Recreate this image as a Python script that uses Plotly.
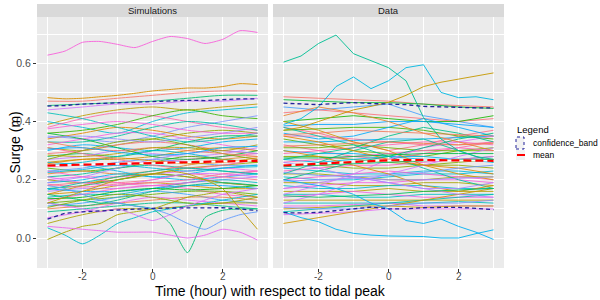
import math
import plotly.graph_objects as go

# ---------------- data ----------------
X7 = [-3, -2, -1, 0, 1, 2, 3]
X13 = [-3, -2.5, -2, -1.5, -1, -0.5, 0, 0.5, 1, 1.5, 2, 2.5, 3]
panels = ["Simulations", "Data"]

sim_bulk = [
    [0.47, 0.47, 0.48, 0.49, 0.50, 0.505, 0.505],
    [0.455, 0.46, 0.465, 0.47, 0.48, 0.49, 0.49],
    [0.44, 0.45, 0.46, 0.46, 0.47, 0.47, 0.48],
    [0.39, 0.42, 0.44, 0.45, 0.44, 0.45, 0.46],
    [0.40, 0.38, 0.36, 0.40, 0.43, 0.44, 0.45],
    [0.38, 0.41, 0.43, 0.42, 0.40, 0.38, 0.37],
    [0.36, 0.37, 0.39, 0.42, 0.44, 0.42, 0.41],
    [0.35, 0.34, 0.33, 0.35, 0.38, 0.40, 0.42],
    [0.34, 0.36, 0.38, 0.37, 0.35, 0.34, 0.35],
    [0.33, 0.33, 0.35, 0.38, 0.40, 0.39, 0.37],
    [0.32, 0.34, 0.36, 0.36, 0.34, 0.32, 0.30],
    [0.31, 0.30, 0.32, 0.34, 0.36, 0.37, 0.36],
    [0.30, 0.32, 0.31, 0.30, 0.31, 0.33, 0.34],
    [0.29, 0.30, 0.32, 0.33, 0.32, 0.30, 0.29],
    [0.28, 0.29, 0.28, 0.30, 0.33, 0.35, 0.35],
    [0.27, 0.28, 0.30, 0.29, 0.28, 0.29, 0.31],
    [0.26, 0.27, 0.27, 0.28, 0.30, 0.31, 0.30],
    [0.25, 0.26, 0.28, 0.30, 0.29, 0.27, 0.26],
    [0.245, 0.25, 0.25, 0.26, 0.27, 0.28, 0.29],
    [0.24, 0.23, 0.24, 0.26, 0.28, 0.27, 0.26],
    [0.23, 0.24, 0.26, 0.27, 0.26, 0.25, 0.25],
    [0.22, 0.23, 0.22, 0.23, 0.25, 0.27, 0.28],
    [0.21, 0.22, 0.24, 0.25, 0.24, 0.23, 0.22],
    [0.20, 0.21, 0.21, 0.22, 0.23, 0.24, 0.23],
    [0.20, 0.19, 0.20, 0.22, 0.24, 0.25, 0.26],
    [0.19, 0.20, 0.22, 0.21, 0.20, 0.21, 0.22],
    [0.18, 0.19, 0.19, 0.20, 0.22, 0.21, 0.20],
    [0.17, 0.18, 0.20, 0.22, 0.21, 0.19, 0.18],
    [0.16, 0.17, 0.17, 0.18, 0.19, 0.20, 0.21],
    [0.15, 0.16, 0.18, 0.19, 0.18, 0.17, 0.17],
    [0.14, 0.15, 0.15, 0.17, 0.19, 0.20, 0.19],
    [0.13, 0.15, 0.17, 0.18, 0.17, 0.15, 0.14],
    [0.12, 0.13, 0.14, 0.15, 0.16, 0.16, 0.15],
    [0.11, 0.12, 0.14, 0.16, 0.15, 0.13, 0.12],
    [0.10, 0.11, 0.12, 0.13, 0.14, 0.14, 0.13],
    [0.09, 0.10, 0.11, 0.12, 0.12, 0.11, 0.10],
    [0.07, 0.09, 0.12, 0.14, 0.13, 0.12, 0.11],
    [0.05, 0.08, 0.10, 0.10, 0.11, 0.12, 0.12],
    [0.26, 0.25, 0.23, 0.21, 0.22, 0.24, 0.25],
    [0.31, 0.29, 0.27, 0.25, 0.24, 0.25, 0.27],
    [0.36, 0.34, 0.31, 0.28, 0.27, 0.28, 0.30],
    [0.19, 0.21, 0.24, 0.27, 0.29, 0.30, 0.29],
    [0.15, 0.18, 0.21, 0.22, 0.21, 0.19, 0.18],
    [0.43, 0.41, 0.38, 0.35, 0.33, 0.34, 0.36],
    [0.23, 0.21, 0.19, 0.18, 0.19, 0.21, 0.23],
    [0.27, 0.30, 0.33, 0.34, 0.32, 0.29, 0.27],
    [0.17, 0.16, 0.16, 0.17, 0.18, 0.18, 0.17],
    [0.33, 0.31, 0.30, 0.31, 0.30, 0.29, 0.28],
    [0.12, 0.11, 0.13, 0.16, 0.18, 0.19, 0.18],
    [0.21, 0.19, 0.18, 0.20, 0.22, 0.22, 0.21],
    [0.285, 0.28, 0.29, 0.31, 0.31, 0.30, 0.32],
    [0.225, 0.235, 0.25, 0.24, 0.23, 0.24, 0.245],
    [0.185, 0.175, 0.185, 0.19, 0.20, 0.22, 0.23],
    [0.135, 0.14, 0.16, 0.17, 0.165, 0.17, 0.18],
    [0.345, 0.35, 0.34, 0.33, 0.345, 0.36, 0.38],
    [0.255, 0.27, 0.275, 0.265, 0.255, 0.26, 0.275],
    [0.165, 0.19, 0.21, 0.23, 0.24, 0.23, 0.22],
    [0.375, 0.39, 0.40, 0.39, 0.37, 0.36, 0.36],
    [0.105, 0.13, 0.15, 0.14, 0.12, 0.12, 0.14],
    [0.305, 0.31, 0.295, 0.285, 0.29, 0.31, 0.315],
]

# distinctive simulation series (on X13)
sim_pink_outlier = [0.628, 0.642, 0.672, 0.675, 0.665, 0.654, 0.675, 0.692, 0.685, 0.668, 0.682, 0.712, 0.706]
sim_orange_top = [0.482, 0.478, 0.48, 0.485, 0.49, 0.497, 0.505, 0.51, 0.515, 0.515, 0.52, 0.53, 0.527]
sim_green_dip = [0.15, 0.14, 0.13, 0.12, 0.12, 0.11, 0.10, 0.05, -0.05, 0.07, 0.095, 0.10, 0.10]
sim_cyan_low = [0.035, 0.01, -0.02, 0.01, 0.05, 0.07, 0.09, 0.10, 0.11, 0.12, 0.13, 0.14, 0.15]
sim_olive_low = [-0.005, 0.02, 0.04, 0.05, 0.08, 0.09, 0.10, 0.12, 0.14, 0.15, 0.16, 0.15, 0.14]
sim_violet_low = [0.04, 0.035, 0.03, 0.025, 0.02, 0.02, 0.02, 0.01, 0.0, 0.01, 0.03, 0.02, -0.007]
sim_violet_mid = [0.12, 0.11, 0.10, 0.09, 0.10, 0.08, 0.06, 0.08, 0.11, 0.13, 0.15, 0.16, 0.17]
sim_blue_dip = [0.18, 0.17, 0.15, 0.13, 0.12, 0.11, 0.10, 0.08, 0.05, 0.03, 0.06, 0.08, 0.09]
sim_olive_drop = [0.12, 0.14, 0.16, 0.18, 0.20, 0.21, 0.22, 0.23, 0.22, 0.20, 0.17, 0.10, 0.03]

sim_mean = [0.249, 0.252, 0.256, 0.259, 0.261, 0.263, 0.265]
sim_upper = [0.453, 0.455, 0.46, 0.462, 0.465, 0.468, 0.47, 0.472, 0.473, 0.472, 0.475, 0.478, 0.478]
sim_lower = [0.065, 0.085, 0.09, 0.093, 0.096, 0.10, 0.102, 0.103, 0.103, 0.105, 0.104, 0.10, 0.094]

data_bulk = [
    [0.485, 0.48, 0.475, 0.47, 0.46, 0.455, 0.45],
    [0.475, 0.47, 0.465, 0.465, 0.46, 0.45, 0.445],
    [0.45, 0.44, 0.45, 0.46, 0.42, 0.40, 0.38],
    [0.43, 0.44, 0.43, 0.42, 0.41, 0.40, 0.41],
    [0.40, 0.41, 0.42, 0.41, 0.40, 0.40, 0.42],
    [0.385, 0.39, 0.39, 0.40, 0.40, 0.39, 0.38],
    [0.38, 0.36, 0.33, 0.30, 0.32, 0.35, 0.37],
    [0.37, 0.375, 0.38, 0.38, 0.37, 0.35, 0.34],
    [0.36, 0.34, 0.35, 0.38, 0.41, 0.38, 0.35],
    [0.35, 0.35, 0.34, 0.33, 0.32, 0.32, 0.33],
    [0.34, 0.32, 0.30, 0.29, 0.28, 0.30, 0.31],
    [0.33, 0.33, 0.335, 0.34, 0.34, 0.345, 0.35],
    [0.32, 0.30, 0.28, 0.27, 0.29, 0.31, 0.33],
    [0.31, 0.31, 0.32, 0.31, 0.30, 0.30, 0.30],
    [0.30, 0.29, 0.29, 0.28, 0.27, 0.27, 0.28],
    [0.29, 0.30, 0.31, 0.32, 0.33, 0.33, 0.32],
    [0.28, 0.28, 0.27, 0.26, 0.25, 0.26, 0.27],
    [0.27, 0.26, 0.27, 0.28, 0.28, 0.27, 0.26],
    [0.26, 0.27, 0.28, 0.29, 0.30, 0.31, 0.30],
    [0.25, 0.25, 0.24, 0.24, 0.25, 0.25, 0.24],
    [0.24, 0.23, 0.22, 0.22, 0.23, 0.23, 0.22],
    [0.23, 0.24, 0.25, 0.25, 0.26, 0.27, 0.28],
    [0.22, 0.22, 0.21, 0.20, 0.20, 0.21, 0.21],
    [0.21, 0.20, 0.20, 0.21, 0.22, 0.22, 0.23],
    [0.20, 0.21, 0.22, 0.23, 0.22, 0.21, 0.20],
    [0.19, 0.19, 0.18, 0.18, 0.19, 0.19, 0.18],
    [0.18, 0.17, 0.17, 0.18, 0.18, 0.17, 0.17],
    [0.17, 0.18, 0.19, 0.19, 0.20, 0.20, 0.19],
    [0.16, 0.16, 0.16, 0.17, 0.16, 0.16, 0.16],
    [0.15, 0.15, 0.14, 0.14, 0.15, 0.15, 0.15],
    [0.14, 0.15, 0.16, 0.15, 0.14, 0.14, 0.14],
    [0.13, 0.13, 0.13, 0.13, 0.13, 0.13, 0.13],
    [0.12, 0.12, 0.12, 0.12, 0.12, 0.125, 0.12],
    [0.11, 0.11, 0.115, 0.12, 0.11, 0.11, 0.11],
    [0.10, 0.105, 0.11, 0.11, 0.105, 0.11, 0.11],
    [0.09, 0.10, 0.11, 0.12, 0.13, 0.14, 0.15],
    [0.08, 0.085, 0.09, 0.10, 0.10, 0.10, 0.10],
    [0.05, 0.07, 0.09, 0.11, 0.13, 0.15, 0.17],
    [0.38, 0.35, 0.32, 0.28, 0.24, 0.20, 0.17],
    [0.15, 0.18, 0.22, 0.27, 0.31, 0.33, 0.35],
    [0.40, 0.37, 0.33, 0.30, 0.25, 0.22, 0.20],
    [0.22, 0.26, 0.30, 0.33, 0.34, 0.30, 0.26],
    [0.12, 0.15, 0.19, 0.22, 0.25, 0.28, 0.31],
    [0.30, 0.28, 0.25, 0.22, 0.18, 0.16, 0.18],
    [0.27, 0.29, 0.31, 0.35, 0.38, 0.36, 0.33],
    [0.17, 0.19, 0.21, 0.19, 0.17, 0.15, 0.14],
    [0.35, 0.33, 0.30, 0.27, 0.25, 0.24, 0.22],
    [0.20, 0.23, 0.26, 0.28, 0.31, 0.34, 0.36],
    [0.26, 0.24, 0.21, 0.19, 0.17, 0.17, 0.19],
    [0.42, 0.45, 0.43, 0.40, 0.36, 0.33, 0.30],
    [0.245, 0.25, 0.255, 0.26, 0.265, 0.27, 0.27],
    [0.195, 0.20, 0.205, 0.20, 0.20, 0.205, 0.21],
    [0.315, 0.32, 0.325, 0.33, 0.325, 0.32, 0.325],
    [0.145, 0.14, 0.145, 0.15, 0.16, 0.165, 0.17],
    [0.105, 0.10, 0.10, 0.11, 0.12, 0.12, 0.13],
    [0.355, 0.36, 0.37, 0.365, 0.36, 0.355, 0.35],
    [0.275, 0.275, 0.28, 0.285, 0.29, 0.29, 0.29],
    [0.225, 0.215, 0.21, 0.215, 0.225, 0.24, 0.25],
]

# distinctive observed series (on X13)
data_teal_high = [0.604, 0.625, 0.668, 0.697, 0.633, 0.61, 0.585, 0.54, 0.414, 0.34, 0.30, 0.28, 0.27]
data_blue_wander = [0.39, 0.41, 0.45, 0.52, 0.553, 0.513, 0.54, 0.585, 0.595, 0.50, 0.482, 0.485, 0.475]
data_gold_rise = [0.37, 0.38, 0.40, 0.42, 0.44, 0.452, 0.466, 0.49, 0.52, 0.535, 0.545, 0.555, 0.567]
data_blue_low_a = [0.09, 0.07, 0.056, 0.03, 0.016, 0.01, 0.007, 0.005, 0.005, 0.0, 0.0, 0.015, 0.028]
data_blue_low_b = [0.20, 0.19, 0.18, 0.17, 0.15, 0.12, 0.10, 0.06, 0.05, 0.065, 0.04, 0.02, -0.005]

data_mean = [0.249, 0.255, 0.262, 0.267, 0.268, 0.266, 0.265]
data_upper = [0.463, 0.46, 0.458, 0.462, 0.465, 0.462, 0.46, 0.458, 0.452, 0.45, 0.448, 0.447, 0.447]
data_lower = [0.087, 0.086, 0.088, 0.093, 0.10, 0.106, 0.10, 0.10, 0.104, 0.105, 0.105, 0.102, 0.097]

y_ticks = [0.0, 0.2, 0.4, 0.6]
y_tick_text = ["0.0", "0.2", "0.4", "0.6"]
x_ticks = [-2, 0, 2]
x_tick_text = ["-2", "0", "2"]


# ---------------- helpers ----------------
def hcl(h, c=100.0, l=65.0):
    hr = math.radians(h % 360)
    u = c * math.cos(hr)
    v = c * math.sin(hr)
    Xn, Yn, Zn = 95.047, 100.0, 108.883
    d = Xn + 15 * Yn + 3 * Zn
    un, vn = 4 * Xn / d, 9 * Yn / d
    Y = Yn * ((l + 16) / 116) ** 3
    up = u / (13 * l) + un
    vp = v / (13 * l) + vn
    X = Y * 9 * up / (4 * vp)
    Z = Y * (12 - 3 * up - 20 * vp) / (4 * vp)
    X, Y, Z = X / 100, Y / 100, Z / 100
    r = 3.2404542 * X - 1.5371385 * Y - 0.4985314 * Z
    g = -0.9692660 * X + 1.8760108 * Y + 0.0415560 * Z
    b = 0.0556434 * X - 0.2040259 * Y + 1.0572252 * Z

    def gam(cc):
        cc = 12.92 * cc if cc <= 0.0031308 else 1.055 * max(cc, 0) ** (1 / 2.4) - 0.055
        return int(round(max(0.0, min(1.0, cc)) * 255))

    return "#%02x%02x%02x" % (gam(r), gam(g), gam(b))


L, R, T, B = 37, 504, 4, 268
W, H = R - L, B - T
def px(x):
    return (x - L) / W
def py(y):
    return (B - y) / H

split1 = px(268)
split2 = px(273)
ytop = py(17)

fig = go.Figure()

def add_bulk(lines, xa, ya, shape, mult):
    n = len(lines)
    for i, vals in enumerate(lines):
        hue = 15 + 360 * ((i * mult) % n) / n
        fig.add_trace(go.Scatter(x=X7, y=vals, mode="lines", xaxis=xa, yaxis=ya,
                                 line=dict(color=hcl(hue), width=1, shape=shape, smoothing=0.8),
                                 opacity=0.85, hoverinfo="skip", showlegend=False))

def add_special(vals, hue, xa, ya, shape):
    fig.add_trace(go.Scatter(x=X13, y=vals, mode="lines", xaxis=xa, yaxis=ya,
                             line=dict(color=hcl(hue), width=1, shape=shape, smoothing=0.6),
                             opacity=0.9, hoverinfo="skip", showlegend=False))

add_bulk(sim_bulk, "x", "y", "spline", 23)
for vals, hue in [(sim_pink_outlier, 320), (sim_orange_top, 50), (sim_green_dip, 155),
                  (sim_cyan_low, 200), (sim_olive_low, 85), (sim_violet_low, 305),
                  (sim_violet_mid, 295), (sim_blue_dip, 255), (sim_olive_drop, 70)]:
    add_special(vals, hue, "x", "y", "spline")

add_bulk(data_bulk, "x2", "y2", "linear", 19)
for vals, hue in [(data_teal_high, 170), (data_blue_wander, 215), (data_gold_rise, 65),
                  (data_blue_low_a, 225), (data_blue_low_b, 230)]:
    add_special(vals, hue, "x2", "y2", "linear")

band_color = "#22229A"
for xa, ya, up, lo, mn in [("x", "y", sim_upper, sim_lower, sim_mean),
                           ("x2", "y2", data_upper, data_lower, data_mean)]:
    for vals in (up, lo):
        fig.add_trace(go.Scatter(x=X13, y=vals, mode="lines", xaxis=xa, yaxis=ya,
                                 line=dict(color=band_color, width=1.3, dash="4px,3px"),
                                 hoverinfo="skip", showlegend=False))
    fig.add_trace(go.Scatter(x=X7, y=mn, mode="lines", xaxis=xa, yaxis=ya,
                             line=dict(color="white", width=1.5),
                             hoverinfo="skip", showlegend=False))
    fig.add_trace(go.Scatter(x=X7, y=mn, mode="lines", xaxis=xa, yaxis=ya,
                             line=dict(color="#FF0000", width=2.2, dash="8px,4px"),
                             hoverinfo="skip", showlegend=False))

FONT = "Liberation Sans, Arial, sans-serif"
TICKFONT = dict(family=FONT, size=10.5, color="#4D4D4D")
XTICKFONT = dict(family=FONT, size=10, color="#4D4D4D")
xcommon = dict(range=[-3.3, 3.3], tickvals=x_ticks, showticklabels=False,
               showgrid=True, gridcolor="white", gridwidth=1, zeroline=False,
               ticks="outside", ticklen=3, tickcolor="#333333", tickwidth=1,
               minor=dict(tickvals=[-3, -1, 1, 3], showgrid=True, gridcolor="white", gridwidth=0.5),
               showline=False)
yrange = [-0.103, 0.759]
fig.update_layout(
    width=600, height=300,
    margin=dict(l=L, r=600 - R, t=T, b=300 - B),
    paper_bgcolor="white", plot_bgcolor="#EBEBEB",
    showlegend=False,
    xaxis=dict(domain=[0, split1], anchor="y", **xcommon),
    xaxis2=dict(domain=[split2, 1], anchor="y2", **xcommon),
    yaxis=dict(domain=[0, ytop], range=yrange, anchor="x", tickvals=y_ticks,
               ticktext=y_tick_text, showgrid=True, gridcolor="white", gridwidth=1,
               zeroline=False, ticks="outside", ticklen=3, tickcolor="#333333", tickwidth=1,
               tickfont=TICKFONT,
               minor=dict(tickvals=[-0.1, 0.1, 0.3, 0.5, 0.7], showgrid=True, gridcolor="white", gridwidth=0.5)),
    yaxis2=dict(domain=[0, ytop], range=yrange, anchor="x2", tickvals=y_ticks,
                showticklabels=False, showgrid=True, gridcolor="white", gridwidth=1, zeroline=False,
                ticks="", minor=dict(tickvals=[-0.1, 0.1, 0.3, 0.5, 0.7], showgrid=True,
                                     gridcolor="white", gridwidth=0.5)),
)

shapes = []
annotations = []
for (x0, x1), name in zip([(0, split1), (split2, 1)], panels):
    shapes.append(dict(type="rect", xref="paper", yref="paper", x0=x0, x1=x1, y0=ytop, y1=1,
                       fillcolor="#D9D9D9", line=dict(width=0), layer="below"))
    annotations.append(dict(text=name, xref="paper", yref="paper", x=(x0 + x1) / 2, y=py(10.5),
                            showarrow=False, xanchor="center", yanchor="middle",
                            font=dict(family=FONT, size=9.5, color="#1A1A1A")))

# x tick labels placed at the axis tick values
for xr in ("x", "x2"):
    for v, t in zip(x_ticks, x_tick_text):
        annotations.append(dict(text=t, xref=xr, yref="paper", x=v, y=py(276.5),
                                showarrow=False, xanchor="center", yanchor="middle",
                                font=XTICKFONT))

annotations.append(dict(text="Time (hour) with respect to tidal peak", xref="paper", yref="paper",
                        x=0.5, y=py(291), showarrow=False, xanchor="center", yanchor="middle",
                        font=dict(family=FONT, size=14, color="black")))
annotations.append(dict(text="Surge (m)", xref="paper", yref="paper", x=px(14), y=py(142.5),
                        textangle=-90, showarrow=False, xanchor="center", yanchor="middle",
                        font=dict(family=FONT, size=14, color="black")))

# legend (drawn manually, ggplot style)
annotations.append(dict(text="Legend", xref="paper", yref="paper", x=px(515), y=py(129),
                        showarrow=False, xanchor="left", yanchor="middle",
                        font=dict(family=FONT, size=9.5, color="black")))
shapes.append(dict(type="rect", xref="paper", yref="paper", x0=px(516), x1=px(524), y0=py(149), y1=py(137),
                   fillcolor="#F2F2F2", line=dict(color=band_color, width=1, dash="dot")))
annotations.append(dict(text="confidence_band", xref="paper", yref="paper", x=px(531), y=py(143),
                        showarrow=False, xanchor="left", yanchor="middle",
                        font=dict(family=FONT, size=8.5, color="black")))
shapes.append(dict(type="rect", xref="paper", yref="paper", x0=px(516), x1=px(525), y0=py(160), y1=py(150),
                   fillcolor="#F2F2F2", line=dict(width=0)))
shapes.append(dict(type="line", xref="paper", yref="paper", x0=px(517), x1=px(525), y0=py(155), y1=py(155),
                   line=dict(color="#FF0000", width=2)))
annotations.append(dict(text="mean", xref="paper", yref="paper", x=px(531), y=py(155),
                        showarrow=False, xanchor="left", yanchor="middle",
                        font=dict(family=FONT, size=8.5, color="black")))

fig.update_layout(shapes=shapes, annotations=annotations)
fig.write_html("out.html", config={"displayModeBar": False},
               post_script="document.body.style.margin='0';document.body.style.overflow='hidden';")
